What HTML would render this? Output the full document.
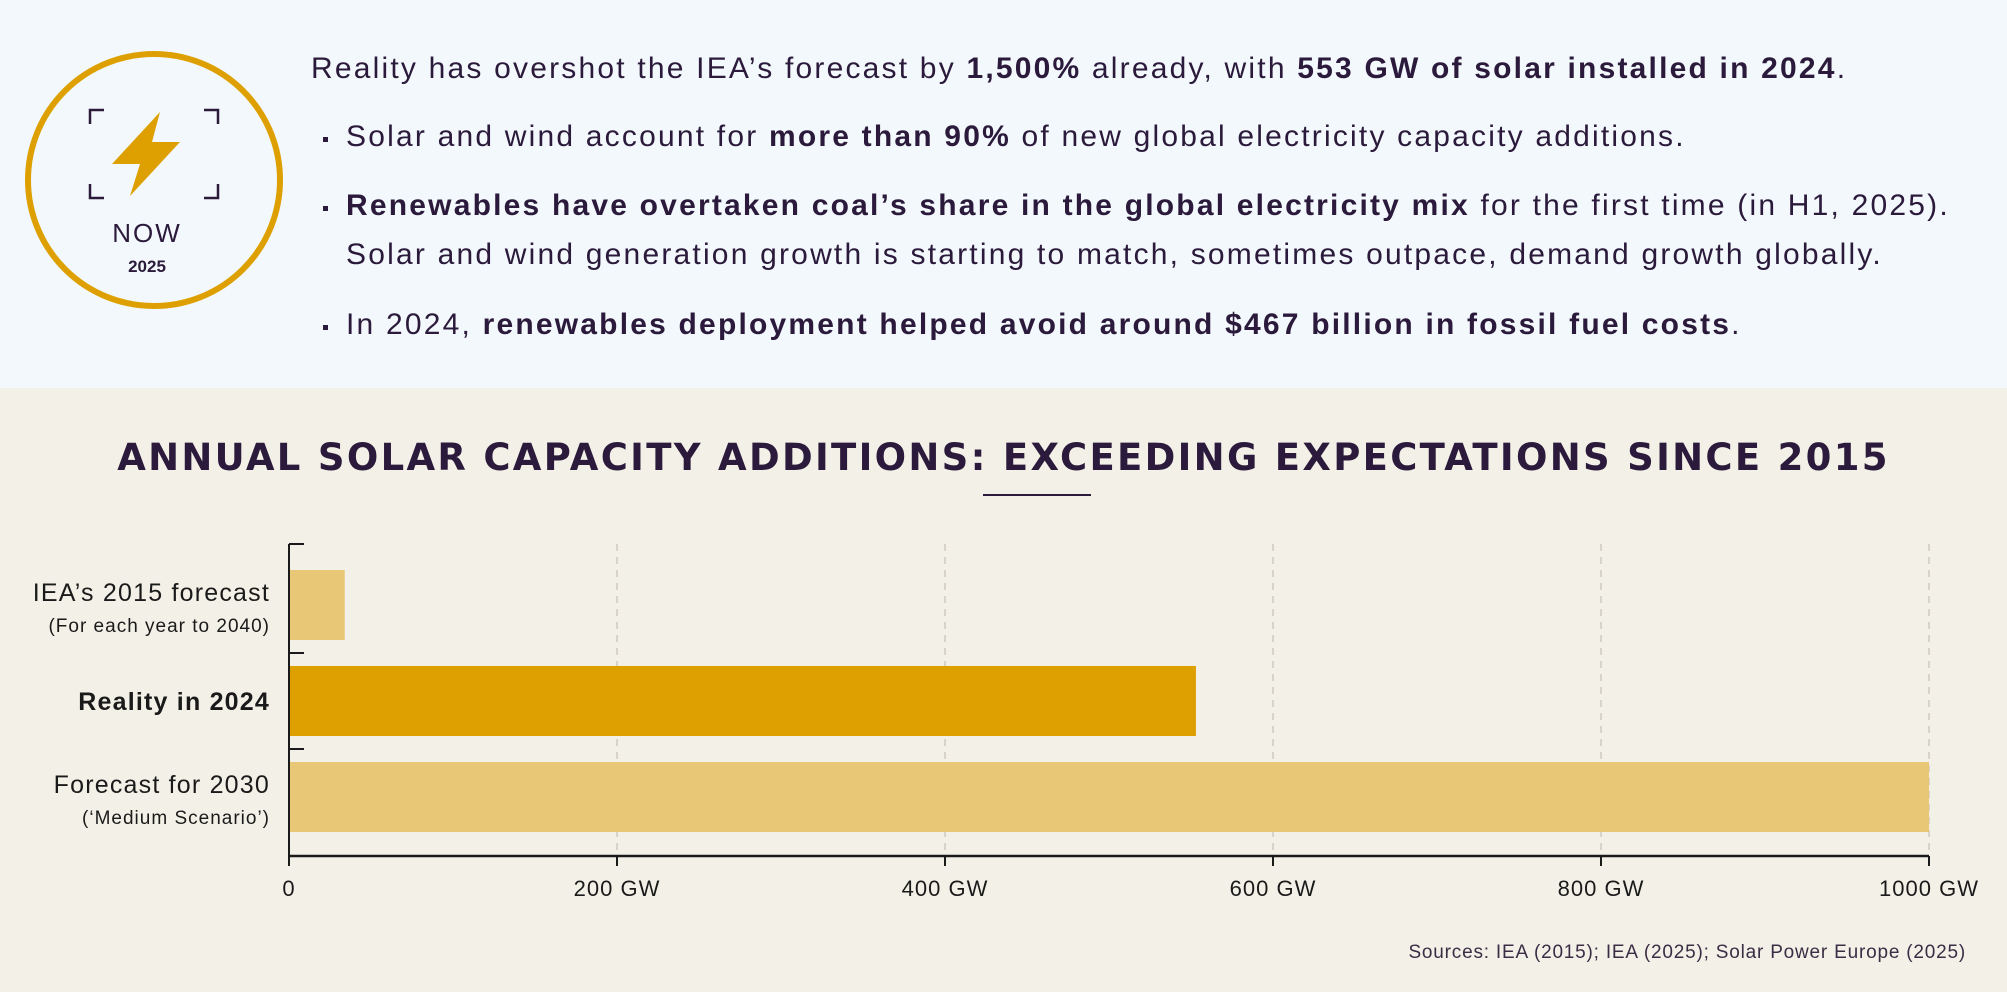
<!DOCTYPE html>
<html><head><meta charset="utf-8">
<style>
html,body{margin:0;padding:0}
body{width:2007px;height:992px;position:relative;overflow:hidden;background:#f3f1e7;font-family:"Liberation Sans",sans-serif;color:#2b1a3b}
#top{position:absolute;left:0;top:0;width:2007px;height:388px;background:#f2f8fb}
.t{position:absolute;white-space:nowrap;font-size:30px;letter-spacing:2.2px}
.t b{font-weight:bold}
.bul{position:absolute;width:5px;height:5px;background:#2b1a3b}
#title{position:absolute;left:0;width:2007px;top:436px;text-align:center;font-size:37px;font-weight:900;letter-spacing:2.3px;font-family:"DejaVu Sans","Liberation Sans",sans-serif}
</style></head><body>
<div id="top">
<svg style="position:absolute;left:0;top:0" width="300" height="388">
<circle cx="154" cy="180" r="126" fill="none" stroke="#dea000" stroke-width="6"/>
<path d="M90 124 V110 H104 M204 110 H218 V124 M90 184 V198 H104 M218 184 V198 H204" fill="none" stroke="#2b1a3b" stroke-width="2.5"/>
<polygon points="160,112 112,164 140,164 130,196 180,142 152,142" fill="#dea000"/>
<text x="147" y="242" text-anchor="middle" font-size="26" fill="#2b1a3b" letter-spacing="2" font-family="Liberation Sans">NOW</text>
<text x="147" y="272" text-anchor="middle" font-size="17" font-weight="bold" fill="#2b1a3b" font-family="Liberation Sans">2025</text>
</svg>
<div class="t" style="left:311px;top:52px">Reality has overshot the IEA’s forecast by <b>1,500%</b> already, with <b>553 GW of solar installed in 2024</b>.</div>
<div class="bul" style="left:323px;top:137px"></div>
<div class="t" style="left:346px;top:120px">Solar and wind account for <b>more than 90%</b> of new global electricity capacity additions.</div>
<div class="bul" style="left:323px;top:206px"></div>
<div class="t" style="left:346px;top:189px"><b>Renewables have overtaken coal’s share in the global electricity mix</b> for the first time (in H1, 2025).</div>
<div class="t" style="left:346px;top:238px">Solar and wind generation growth is starting to match, sometimes outpace, demand growth globally.</div>
<div class="bul" style="left:323px;top:325px"></div>
<div class="t" style="left:346px;top:308px">In 2024, <b>renewables deployment helped avoid around $467 billion in fossil fuel costs</b>.</div>
</div>
<div id="title">ANNUAL SOLAR CAPACITY ADDITIONS: EXCEEDING EXPECTATIONS SINCE 2015</div>
<div style="position:absolute;left:983px;top:494px;width:108px;height:2px;background:#2b1a3b"></div>
<svg id="chart" style="position:absolute;left:0;top:0" width="2007" height="992"></svg>
<div style="position:absolute;right:41px;top:942px;font-size:19px;letter-spacing:0.8px;color:#3a2d45">Sources: IEA (2015); IEA (2025); Solar Power Europe (2025)</div>
<script>
const categories=["IEA’s 2015 forecast","Reality in 2024","Forecast for 2030"];
const subLabels=["(For each year to 2040)","","(‘Medium Scenario’)"];
const values=[34,553,1000];
const ticks=[0,200,400,600,800,1000];
const tickLabels=["0","200 GW","400 GW","600 GW","800 GW","1000 GW"];
const colors=["#e8c877","#dea000","#e8c877"];
const NS="http://www.w3.org/2000/svg";
const svg=document.getElementById('chart');
const x0=289,x1=1929,yTop=544,yBase=856;
const xs=v=>x0+(v/1000)*(x1-x0);
const firstC=605,step=96,barH=70;
const yc=i=>firstC+step*i;
function mk(t,a){const e=document.createElementNS(NS,t);for(const k in a)e.setAttribute(k,a[k]);svg.appendChild(e);return e;}
ticks.forEach((t,i)=>{
 if(i>0){const g=mk('line',{x1:xs(t),x2:xs(t),y1:yTop,y2:yBase,stroke:'#cfcac0','stroke-width':1.5,'stroke-dasharray':'7,6'});
 
 }
 const tk=mk('line',{x1:xs(t),x2:xs(t),y1:yBase,y2:yBase+10,stroke:'#1a1a1a','stroke-width':2});
 
 
 const tl=mk('text',{x:xs(t),y:yBase+40,'text-anchor':'middle','font-size':22,fill:'#1a1a1a','letter-spacing':1});
 tl.textContent=tickLabels[i];
 
 
});
values.forEach((v,i)=>{
 const r=mk('rect',{x:x0,y:yc(i)-barH/2,width:xs(v)-x0,height:barH,fill:colors[i]});
 
 
 const main=mk('text',{x:270,y:subLabels[i]?yc(i)-4:yc(i)+9,'text-anchor':'end','font-size':25,fill:'#1a1a1a','font-weight':i==1?'bold':'normal','letter-spacing':1.2});
 main.textContent=categories[i];
 
 
 if(subLabels[i]){const s=mk('text',{x:270,y:yc(i)+27,'text-anchor':'end','font-size':19,fill:'#1a1a1a','letter-spacing':1});
 s.textContent=subLabels[i];
 
 }
});
[yTop,(yc(0)+yc(1))/2,(yc(1)+yc(2))/2].forEach(y=>{const t=mk('line',{x1:x0,x2:x0+15,y1:y,y2:y,stroke:'#1a1a1a','stroke-width':2});
 
 });
const ya=mk('line',{x1:x0,x2:x0,y1:yTop,y2:yBase,stroke:'#1a1a1a','stroke-width':2});


const xa=mk('line',{x1:x0,x2:x1,y1:yBase,y2:yBase,stroke:'#1a1a1a','stroke-width':2.5});


</script>
</body></html>
